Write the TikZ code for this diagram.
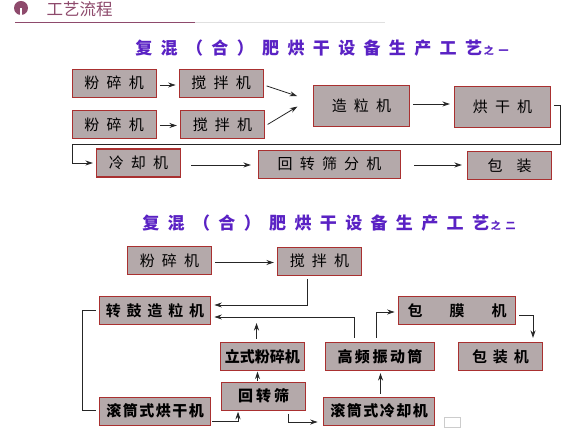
\documentclass[tikz,border=0pt]{standalone}
\usepackage{fontspec}
\usepackage{xcolor}
\usetikzlibrary{arrows.meta, positioning, calc}
\newfontfamily\cjk[WordSpace=2.0]{Noto Sans CJK SC}
\newfontfamily\cjkbold[WordSpace=1.7,BoldFont={Noto Sans CJK SC Bold}]{Noto Sans CJK SC}
\newfontfamily\cjktight[WordSpace=0]{Noto Sans CJK SC}
\newfontfamily\cjktitle[WordSpace=2.15]{Noto Sans CJK SC}
\definecolor{boxfill}{HTML}{B4A9AA}
\definecolor{boxline}{HTML}{A93030}
\definecolor{plum}{HTML}{8E4A6C}
\definecolor{titleblue}{HTML}{5A22C4}
\begin{document}
\begin{tikzpicture}[
        x=1pt, y=-1pt,
        machine/.style={draw=boxline, fill=boxfill, line width=1.1pt, inner sep=0pt, minimum width=84pt, minimum height=28pt, font=\fontsize{15}{15}\selectfont\cjk},
        heavy/.style={machine, font=\fontsize{15}{15}\selectfont\cjkbold\bfseries},
        title/.style={font=\fontsize{17}{17}\selectfont\cjktitle\bfseries, text=titleblue, inner sep=0pt},
        arr/.style={-{Stealth[length=7.5pt, width=5pt]}, line width=0.8pt, draw=black!85, shorten <=3pt, shorten >=3pt},
        link/.style={line width=0.8pt, draw=black!85, shorten <=3pt, shorten >=3pt}
    ]
        \useasboundingbox (0,0) rectangle (577,443);
        \fill[white] (0,0) rectangle (577,443);

        % header
        \node[circle, fill=plum, minimum size=14pt, inner sep=0pt] (dot) at (21,8) {};
        \fill[white] (19.8,8) rectangle (22.2,15.5);
        \node[font=\fontsize{16.5}{16.5}\selectfont\cjktight, text=plum, inner sep=0pt] (head) at (79.5,9) {工艺流程};
        \draw[black!12, line width=0.6pt] (195,22.5) -- (385,22.5);
        \draw[plum, line width=0.9pt] (15,22.5) -- (195,22.5);

        % first line
        \node[title] (title1) at (322,48) {复 混 （ 合 ） 肥 烘 干 设 备 生 产 工 艺{\fontsize{10}{10}\selectfont\,之 一}};

        \node[machine] (mill1) at (114.2,83.2) {粉 碎 机};
        \node[machine] (mix1) at (221.2,83.2) {搅 拌 机};
        \node[machine] (mill2) at (114.2,124.5) {粉 碎 机};
        \node[machine] (mix2) at (222.5,124.5) {搅 拌 机};
        \node[machine, minimum width=96pt, minimum height=41pt] (gran) at (361.5,106) {造 粒 机};
        \node[machine, minimum width=96pt, minimum height=41pt] (dry) at (502.5,107) {烘 干 机};
        \node[machine] (cool) at (138.5,163) {冷 却 机};
        \node[machine, minimum width=142pt] (sieve) at (329.5,164.2) {回 转 筛 分 机};
        \node[machine] (pack) at (509.5,165.5) {包\hspace{14pt}装};

        \coordinate (in1) at (300,97);
        \coordinate (in2) at (300,105);
        \coordinate (turn1) at (560.5,144.5);
        \coordinate (turn2) at (72,144.5);

        \draw[arr] (mill1.east |- 0,85) -- (mix1.west |- 0,85);
        \draw[arr] (mill2.east |- 0,125.5) -- (mix2.west |- 0,125.5);
        \draw[arr] (mix1.east |- 0,85) -- (in1);
        \draw[arr] (mix2.east |- 0,126) -- (in2);
        \draw[arr, shorten >=4pt] (gran.east |- 0,104) -- (dry.west |- 0,104);
        \draw[arr] (dry.east |- 0,105.5) -| (turn1) -- (turn2) |- (cool.west);
        \draw[arr, shorten <=10pt, shorten >=7pt] (cool.east |- 0,165) -- (sieve.west |- 0,165);
        \draw[arr, shorten <=13pt, shorten >=5pt] (sieve.east |- 0,165) -- (pack.west |- 0,165);

        % second line
        \node[title] (title2) at (329,223) {复 混 （ 合 ） 肥 烘 干 设 备 生 产 工 艺{\fontsize{10}{10}\selectfont\,之 二}};

        \node[machine] (millb) at (169.5,260.4) {粉 碎 机};
        \node[machine] (mixb) at (319.5,261.2) {搅 拌 机};
        \node[heavy, minimum width=111.5pt] (drum) at (155,310.5) {转 鼓 造 粒 机};
        \node[heavy] (vert) at (262.3,356.5) {{\cjktight 立式粉碎机}};
        \node[heavy] (screen) at (263.7,396.2) {{\cjktight 回}\hspace{3pt}{\cjktight 转}\hspace{3pt}{\cjktight 筛}};
        \node[heavy, minimum width=111.5pt] (dryb) at (155,411.2) {{\cjktight 滚}\hspace{1.5pt}{\cjktight 筒}\hspace{1.5pt}{\cjktight 式}\hspace{1.5pt}{\cjktight 烘}\hspace{1.5pt}{\cjktight 干}\hspace{1.5pt}{\cjktight 机}};
        \node[heavy, minimum width=109.5pt] (vib) at (380,356.5) {{\cjktight 高}\hspace{2.5pt}{\cjktight 频}\hspace{2.5pt}{\cjktight 振}\hspace{2.5pt}{\cjktight 动}\hspace{2.5pt}{\cjktight 筒}};
        \node[heavy, minimum width=111.5pt] (coolb) at (379,411.2) {{\cjktight 滚}\hspace{1.5pt}{\cjktight 筒}\hspace{1.5pt}{\cjktight 式}\hspace{1.5pt}{\cjktight 冷}\hspace{1.5pt}{\cjktight 却}\hspace{1.5pt}{\cjktight 机}};
        \node[heavy, minimum width=117.5pt] (film) at (457,310.5) {包\hspace{27pt}膜\hspace{27pt}机};
        \node[heavy] (packb) at (500.5,356.5) {包 装 机};
        \node[draw=black!20, fill=white, line width=0.5pt, minimum width=16pt, minimum height=9.5pt, inner sep=0pt] (blank) at (452.4,422.2) {};

        \coordinate (up) at (256.5,323);

        \draw[arr] (millb.east |- 0,262.5) -- (mixb.west |- 0,262.5);
        \draw[arr] ([xshift=-12pt]mixb.south) |- (drum.east |- 0,305);
        \draw[arr, shorten <=4pt] ([xshift=-26pt]vib.north) |- (drum.east |- 0,317);
        \draw[arr, shorten >=0pt] ([xshift=-5.8pt]vert.north) -- (up);
        \draw[arr, shorten <=1pt, shorten >=0.5pt] ([xshift=-6.2pt]screen.north) -- ([xshift=-4.8pt]vert.south);
        \draw[arr, shorten <=1pt, shorten >=1pt] (dryb.east |- 0,421) -| ([xshift=-25.7pt]screen.south);
        \draw[arr, shorten >=5pt] ([xshift=24.3pt]screen.south) |- (coolb.west |- 0,422);
        \draw[arr, shorten >=2pt] ([xshift=1.5pt]coolb.north) -- ([xshift=0.5pt]vib.south);
        \draw[arr, shorten <=4pt] ([xshift=-3.5pt]vib.north) |- (film.west |- 0,312);
        \draw[arr, shorten >=4pt] (film.east |- 0,315) -| ([xshift=32.5pt]packb.north);
        \draw[link] (drum.west) -| (82,410) -- (dryb.west |- 0,410);
    \end{tikzpicture}
\end{document}
